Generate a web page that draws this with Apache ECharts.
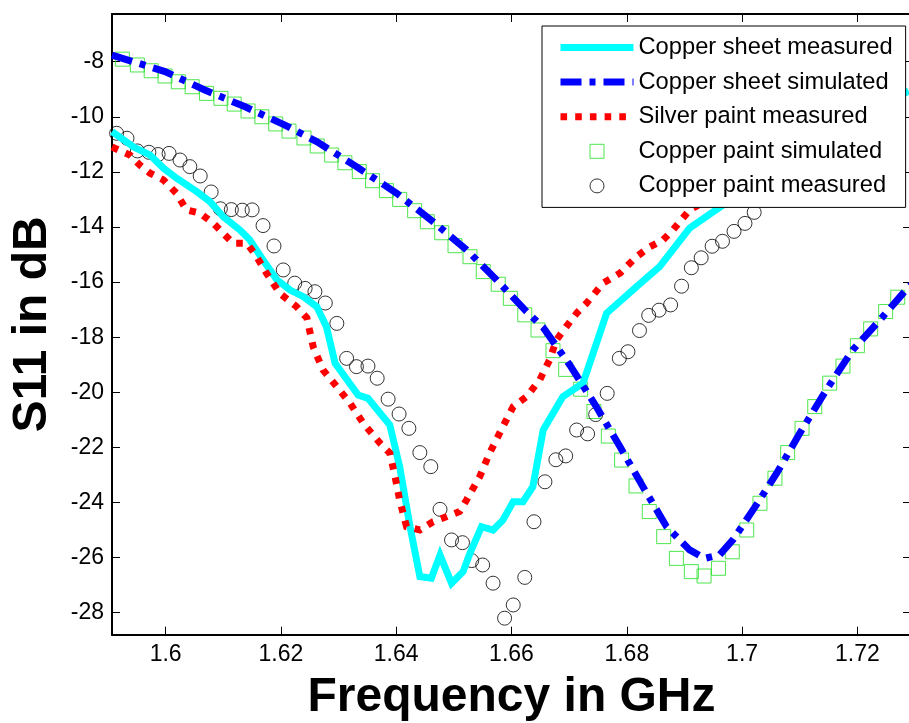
<!DOCTYPE html>
<html>
<head>
<meta charset="utf-8">
<script src="https://cdn.jsdelivr.net/npm/echarts@6/dist/echarts.min.js"></script>
<style>
html,body{margin:0;padding:0;background:#fff;}
#chart{width:909px;height:723px;}
</style>
</head>
<body>
<div id="chart"></div>
<script>
// ---- tick labels ----
const xTicks = [1.6, 1.62, 1.64, 1.66, 1.68, 1.7, 1.72];
const yTicks = [-28, -26, -24, -22, -20, -18, -16, -14, -12, -10, -8];

// ---- series names ----
const seriesNames = ['Copper sheet measured', 'Copper sheet simulated', 'Silver paint measured', 'Copper paint simulated', 'Copper paint measured'];

// ---- data: [frequency GHz, S11 dB] ----
const copperSheetMeasured = [
  [1.5907,-10.54],[1.5944,-11.09],[1.5973,-11.39],[1.5996,-11.86],[1.6019,-12.23],[1.6054,-12.72],
  [1.6077,-13.08],[1.6100,-13.63],[1.6129,-14.11],[1.6146,-14.47],[1.6169,-15.20],[1.6193,-15.92],
  [1.6216,-16.29],[1.6239,-16.53],[1.6262,-16.89],[1.6279,-17.62],[1.6294,-18.95],[1.6334,-20.10],
  [1.6351,-20.22],[1.6389,-21.19],[1.6406,-22.70],[1.6424,-24.88],[1.6441,-26.69],[1.6461,-26.75],
  [1.6476,-25.91],[1.6496,-26.93],[1.6516,-26.51],[1.6528,-25.84],[1.6548,-24.88],[1.6568,-25.00],
  [1.6585,-24.64],[1.6603,-23.97],[1.6620,-23.97],[1.6637,-23.43],[1.6655,-21.37],[1.6689,-20.16],
  [1.6724,-19.67],[1.6765,-17.13],[1.6817,-16.17],[1.6857,-15.44],[1.6909,-14.04],[1.6961,-13.29],
  [1.7065,-11.86],[1.7169,-10.48],[1.7289,-9.06]
];
const copperSheetSimulated = [
  [1.5907,-7.76],[1.5999,-8.36],[1.6068,-9.03],[1.6137,-9.63],[1.6207,-10.30],[1.6262,-10.90],
  [1.6331,-11.81],[1.6401,-12.78],[1.6464,-13.81],[1.6522,-14.83],[1.6574,-15.92],[1.6626,-17.07],
  [1.6655,-17.65],[1.6701,-19.01],[1.6747,-20.52],[1.6788,-21.97],[1.6828,-23.43],[1.6869,-24.88],
  [1.6909,-25.72],[1.6935,-26.03],[1.6961,-25.90],[1.6984,-25.36],[1.7019,-24.27],[1.7060,-22.94],
  [1.7100,-21.49],[1.7146,-19.92],[1.7192,-18.46],[1.7239,-17.38],[1.7279,-16.41],[1.7293,-16.10]
];
const silverPaintMeasured = [
  [1.5907,-11.10],[1.5938,-11.39],[1.5955,-11.75],[1.5973,-12.05],[1.5996,-12.29],[1.6019,-12.78],
  [1.6036,-13.38],[1.6060,-13.50],[1.6083,-13.87],[1.6100,-14.23],[1.6117,-14.59],[1.6141,-14.59],
  [1.6158,-15.08],[1.6175,-15.68],[1.6198,-16.41],[1.6227,-16.89],[1.6245,-17.30],[1.6256,-18.35],
  [1.6273,-19.19],[1.6297,-19.80],[1.6320,-20.40],[1.6343,-21.13],[1.6372,-21.85],[1.6389,-22.21],
  [1.6398,-23.06],[1.6406,-23.91],[1.6418,-24.88],[1.6441,-25.00],[1.6464,-24.70],[1.6487,-24.52],
  [1.6510,-24.33],[1.6522,-23.91],[1.6545,-23.06],[1.6562,-22.21],[1.6585,-21.25],[1.6603,-20.52],
  [1.6626,-20.16],[1.6649,-19.55],[1.6666,-18.83],[1.6678,-18.10],[1.6695,-17.62],[1.6713,-17.13],
  [1.6730,-16.77],[1.6759,-16.04],[1.6788,-15.68],[1.6817,-15.08],[1.6840,-14.72],[1.6863,-14.47],
  [1.6880,-14.11],[1.6909,-13.38],[1.7031,-12.00],[1.7152,-10.33],[1.7289,-8.95]
];
const copperPaintSimulated = [
  [1.5925,-7.91],[1.5951,-8.12],[1.5975,-8.33],[1.5999,-8.52],[1.6022,-8.73],[1.6046,-8.91],
  [1.6071,-9.15],[1.6096,-9.33],[1.6119,-9.54],[1.6143,-9.79],[1.6167,-10.00],[1.6191,-10.26],
  [1.6214,-10.52],[1.6240,-10.77],[1.6263,-11.06],[1.6288,-11.39],[1.6311,-11.67],[1.6336,-11.99],
  [1.6359,-12.32],[1.6383,-12.68],[1.6406,-13.00],[1.6432,-13.41],[1.6454,-13.81],[1.6479,-14.21],
  [1.6502,-14.68],[1.6528,-15.08],[1.6551,-15.62],[1.6577,-16.08],[1.6598,-16.59],[1.6623,-17.19],
  [1.6646,-17.74],[1.6672,-18.49],[1.6694,-19.17],[1.6720,-19.89],[1.6743,-20.70],[1.6768,-21.59],
  [1.6791,-22.46],[1.6816,-23.40],[1.6839,-24.33],[1.6864,-25.24],[1.6886,-26.03],[1.6912,-26.51],
  [1.6934,-26.67],[1.6959,-26.39],[1.6983,-25.79],[1.7008,-25.00],[1.7031,-24.03],[1.7057,-23.12],
  [1.7079,-22.19],[1.7104,-21.31],[1.7126,-20.52],[1.7152,-19.67],[1.7175,-19.05],[1.7200,-18.31],
  [1.7223,-17.70],[1.7249,-17.07],[1.7270,-16.55]
];
const copperPaintMeasured = [
  [1.5915,-10.60],[1.5933,-10.78],[1.5951,-11.24],[1.5971,-11.29],[1.5987,-11.37],[1.6006,-11.33],
  [1.6025,-11.57],[1.6042,-11.81],[1.6060,-12.15],[1.6079,-12.73],[1.6095,-13.34],[1.6114,-13.37],
  [1.6133,-13.39],[1.6150,-13.38],[1.6169,-13.95],[1.6188,-14.69],[1.6204,-15.56],[1.6224,-16.04],
  [1.6242,-16.23],[1.6259,-16.35],[1.6277,-16.76],[1.6297,-17.50],[1.6314,-18.77],[1.6331,-19.07],
  [1.6351,-19.05],[1.6367,-19.49],[1.6386,-20.25],[1.6405,-20.79],[1.6422,-21.31],[1.6441,-22.19],
  [1.6460,-22.70],[1.6476,-24.25],[1.6496,-25.36],[1.6515,-25.46],[1.6531,-26.11],[1.6550,-26.27],
  [1.6568,-26.93],[1.6588,-28.20],[1.6603,-27.72],[1.6623,-26.72],[1.6639,-24.70],[1.6658,-23.25],
  [1.6677,-22.45],[1.6694,-22.31],[1.6713,-21.37],[1.6732,-21.51],[1.6746,-20.81],[1.6766,-20.04],
  [1.6787,-18.77],[1.6802,-18.53],[1.6822,-17.76],[1.6838,-17.21],[1.6856,-17.02],[1.6876,-16.83],
  [1.6895,-16.15],[1.6912,-15.48],[1.6929,-15.12],[1.6948,-14.70],[1.6966,-14.52],[1.6986,-14.16],
  [1.7005,-13.87],[1.7021,-13.47]
];

// ---- styling ----
const FONT = '"Liberation Sans", Arial, Helvetica, sans-serif';
const CYAN = '#00ffff', BLUE = '#0000ff', RED = '#ff0000', GREEN = '#22e022', BLACK = '#000000';
const blueDash = [21, 8, 6, 8];
const redDot = [6.6, 8.1];
const X_MIN = 1.5907, X_MAX = 1.7293, Y_MIN = -28.8, Y_MAX = -6.27;

function fmt(v) { return String(Math.round(v * 100) / 100); }

const axisLineStyle = { color: BLACK, width: 2 };
const tickStyle = { color: BLACK, width: 1 };

const chart = echarts.init(document.getElementById('chart'), null, { renderer: 'canvas' });
const option = {
  animation: false,
  backgroundColor: '#ffffff',
  grid: { left: 112, top: 14, width: 799, height: 620.7, containLabel: false, outerBoundsMode: 'none' },
  xAxis: [
    {
      type: 'value', min: X_MIN, max: X_MAX, position: 'bottom',
      axisLine: { show: true, onZero: false, lineStyle: axisLineStyle },
      axisTick: { show: true, inside: true, length: 8, customValues: xTicks, lineStyle: tickStyle },
      axisLabel: { show: true, customValues: xTicks, formatter: fmt, fontSize: 23, color: BLACK, fontFamily: FONT, margin: 8 },
      splitLine: { show: false },
      name: 'Frequency in GHz', nameLocation: 'middle', nameGap: 39,
      nameTextStyle: { fontSize: 48, fontWeight: 'bold', color: BLACK, fontFamily: FONT }
    },
    {
      type: 'value', min: X_MIN, max: X_MAX, position: 'top',
      axisLine: { show: true, onZero: false, lineStyle: axisLineStyle },
      axisTick: { show: true, inside: true, length: 8, customValues: xTicks, lineStyle: tickStyle },
      axisLabel: { show: false },
      splitLine: { show: false }
    }
  ],
  yAxis: [
    {
      type: 'value', min: Y_MIN, max: Y_MAX, position: 'left',
      axisLine: { show: true, onZero: false, lineStyle: axisLineStyle },
      axisTick: { show: true, inside: true, length: 8, customValues: yTicks, lineStyle: tickStyle },
      axisLabel: { show: true, customValues: yTicks, formatter: fmt, fontSize: 23, color: BLACK, fontFamily: FONT, margin: 8 },
      splitLine: { show: false },
      name: 'S11 in dB', nameLocation: 'middle', nameGap: 55, nameRotate: 90,
      nameTextStyle: { fontSize: 48, fontWeight: 'bold', color: BLACK, fontFamily: FONT }
    },
    {
      type: 'value', min: Y_MIN, max: Y_MAX, position: 'right',
      axisLine: { show: true, onZero: false, lineStyle: axisLineStyle },
      axisTick: { show: true, inside: true, length: 8, customValues: yTicks, lineStyle: tickStyle },
      axisLabel: { show: false },
      splitLine: { show: false }
    }
  ],
  legend: {
    orient: 'vertical', left: 542, top: 26,
    padding: [8, 13, 8, 15],
    itemWidth: 73, itemHeight: 14, itemGap: 7.6,
    backgroundColor: '#ffffff', borderColor: BLACK, borderWidth: 1, borderRadius: 0,
    textStyle: { fontSize: 23.7, color: BLACK, fontFamily: FONT, lineHeight: 27 },
    selectedMode: false,
    data: [
      { name: seriesNames[0], lineStyle: { width: 7, color: CYAN, type: 'solid' }, itemStyle: { opacity: 0, borderWidth: 0 } },
      { name: seriesNames[1], lineStyle: { width: 7, color: BLUE, type: blueDash, cap: 'butt' }, itemStyle: { opacity: 0, borderWidth: 0 } },
      { name: seriesNames[2], lineStyle: { width: 7, color: RED, type: redDot, cap: 'butt' }, itemStyle: { opacity: 0, borderWidth: 0 } },
      { name: seriesNames[3], icon: 'path://M0,0H10V10H0Z', itemStyle: { color: 'rgba(0,0,0,0)', borderColor: GREEN, borderWidth: 1 } },
      { name: seriesNames[4], icon: 'circle', itemStyle: { color: 'rgba(0,0,0,0)', borderColor: BLACK, borderWidth: 1 } }
    ]
  },
  series: [
    {
      name: seriesNames[0], type: 'line', data: copperSheetMeasured, xAxisIndex: 0, yAxisIndex: 0,
      symbol: 'none', showSymbol: false, smooth: false,
      lineStyle: { color: CYAN, width: 7, type: 'solid', join: 'miter' },
      itemStyle: { color: CYAN }
    },
    {
      name: seriesNames[1], type: 'line', data: copperSheetSimulated, xAxisIndex: 0, yAxisIndex: 0,
      symbol: 'none', showSymbol: false, smooth: false,
      lineStyle: { color: BLUE, width: 7, type: blueDash, cap: 'butt', join: 'miter' },
      itemStyle: { color: BLUE }
    },
    {
      name: seriesNames[2], type: 'line', data: silverPaintMeasured, xAxisIndex: 0, yAxisIndex: 0,
      symbol: 'none', showSymbol: false, smooth: false,
      lineStyle: { color: RED, width: 7, type: redDot, cap: 'butt', join: 'miter' },
      itemStyle: { color: RED }
    },
    {
      name: seriesNames[3], type: 'scatter', data: copperPaintSimulated, xAxisIndex: 0, yAxisIndex: 0,
      symbol: 'rect', symbolSize: 14,
      itemStyle: { color: 'rgba(0,0,0,0)', borderColor: GREEN, borderWidth: 1 }
    },
    {
      name: seriesNames[4], type: 'scatter', data: copperPaintMeasured, xAxisIndex: 0, yAxisIndex: 0,
      symbol: 'circle', symbolSize: 14,
      itemStyle: { color: 'rgba(0,0,0,0)', borderColor: BLACK, borderWidth: 1 }
    }
  ]
};
chart.setOption(option);
</script>
</body>
</html>
